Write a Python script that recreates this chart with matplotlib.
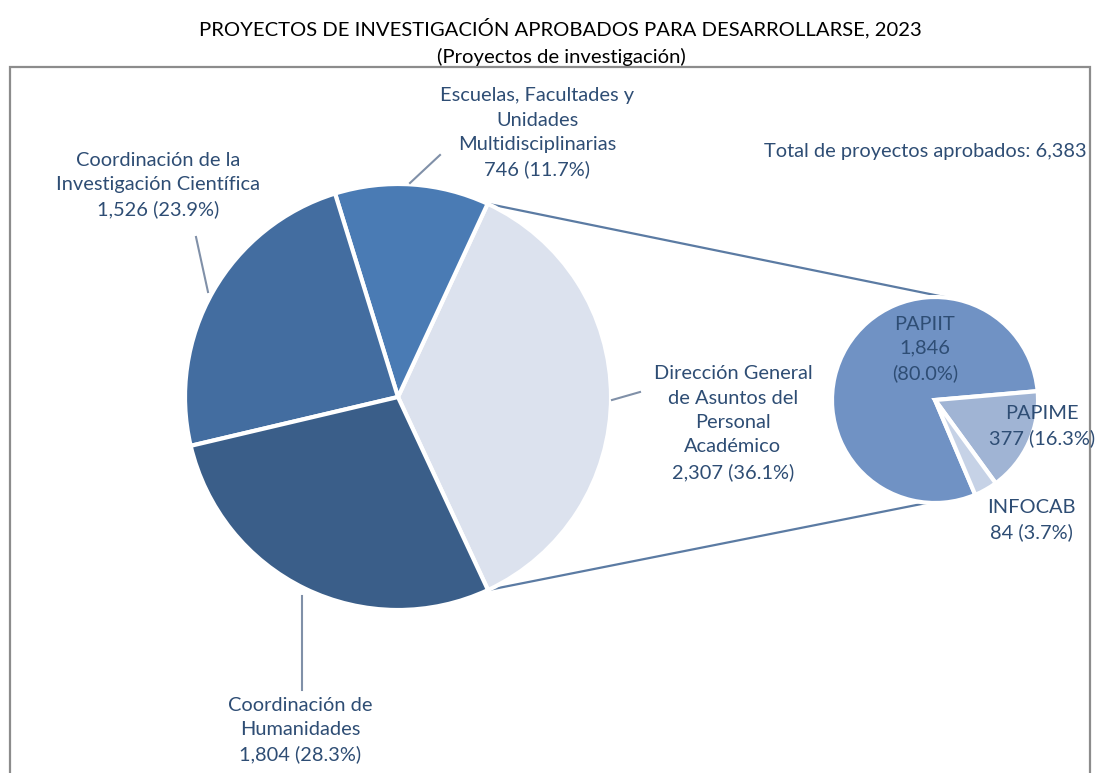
import matplotlib
matplotlib.use("Agg")
import matplotlib.pyplot as plt
import numpy as np
from matplotlib.patches import Rectangle

# ---- data ----
main_labels = ["Dirección General\nde Asuntos del\nPersonal\nAcadémico",
               "Escuelas, Facultades y\nUnidades\nMultidisciplinarias",
               "Coordinación de la\nInvestigación Científica",
               "Coordinación de\nHumanidades"]
main_values = [2307, 746, 1526, 1804]
main_pcts = ["36.1%", "11.7%", "23.9%", "28.3%"]
main_colors = ["#DCE2EE", "#4A7BB4", "#436DA0", "#3A5E89"]

sub_labels = ["PAPIIT", "PAPIME", "INFOCAB"]
sub_values = [1846, 377, 84]
sub_pcts = ["80.0%", "16.3%", "3.7%"]
sub_colors = ["#7092C4", "#A0B4D4", "#C6D2E6"]

total = 6383
title = "PROYECTOS DE INVESTIGACIÓN APROBADOS PARA DESARROLLARSE, 2023"
subtitle = "(Proyectos de investigación)"

W, H = 1095, 773
fig = plt.figure(figsize=(W / 100, H / 100), dpi=100)
ax = fig.add_axes([0, 0, 1, 1])

def Y(py):
    return H - py

FONT = "Lato"
TXT = "#2E4D74"
LEAD = "#8090A8"

# Title
fig.text(560 / W, 1 - 28 / H, title, ha="center", va="center", fontsize=14.6, family=FONT, color="black")
fig.text(561 / W, 1 - 57 / H, subtitle, ha="center", va="center", fontsize=14.6, family=FONT, color="black")

# main pie
mc = (398, Y(397))
mr = 213
wedges, _ = ax.pie(main_values, colors=main_colors, startangle=-65, counterclock=True,
                   radius=mr, center=mc, explode=[5 / mr, 0, 0, 0],
                   wedgeprops=dict(edgecolor="white", linewidth=3), frame=True)

# sub pie
sc = (935, Y(400))
sr = 103
swedges, _ = ax.pie(sub_values, colors=sub_colors, startangle=-67, counterclock=False,
                    radius=sr, center=sc, explode=[0, 5 / sr, 5 / sr],
                    wedgeprops=dict(edgecolor="white", linewidth=3), frame=True)
ax.set_xlim(0, W)
ax.set_ylim(0, H)
ax.set_aspect("equal")
ax.axis("off")

# frame
ax.add_patch(Rectangle((10, Y(780)), 1080, 780 - 67, fill=False, edgecolor="#8C8C8C", lw=1.6, clip_on=False))

# connector lines
dg = wedges[0]
a1, a2 = np.deg2rad(dg.theta2), np.deg2rad(dg.theta1)
cx, cy = dg.center
p_top = (cx + mr * np.cos(a1), cy + mr * np.sin(a1))
p_bot = (cx + mr * np.cos(a2), cy + mr * np.sin(a2))
s_top = (sc[0] + sr * np.cos(np.deg2rad(82)), sc[1] + sr * np.sin(np.deg2rad(82)))
s_bot = (sc[0] + sr * np.cos(np.deg2rad(-94)), sc[1] + sr * np.sin(np.deg2rad(-94)))
ax.plot([p_top[0], s_top[0]], [p_top[1], s_top[1]], color="#5B7BA3", lw=1.6, zorder=0)
ax.plot([p_bot[0], s_bot[0]], [p_bot[1], s_bot[1]], color="#5B7BA3", lw=1.6, zorder=0)

fs = 14.4
def lab(x, y, s):
    ax.text(x, Y(y), s, ha="center", va="center", fontsize=fs, family=FONT, color=TXT, linespacing=1.52)

lab(537, 133, f"{main_labels[1]}\n{main_values[1]:,} ({main_pcts[1]})")
lab(158, 185, f"{main_labels[2]}\n{main_values[2]:,} ({main_pcts[2]})")
lab(733, 423, f"{main_labels[0]}\n{main_values[0]:,} ({main_pcts[0]})")
lab(300, 730, f"{main_labels[3]}\n{main_values[3]:,} ({main_pcts[3]})")
ax.text(925, Y(152), f"Total de proyectos aprobados: {total:,}", ha="center", va="center",
        fontsize=fs, family=FONT, color=TXT)

# leader lines
ax.plot([410, 440], [Y(183), Y(155)], color=LEAD, lw=1.5)
ax.plot([196, 208], [Y(237), Y(292)], color=LEAD, lw=1.5)
ax.plot([612, 640], [Y(400), Y(392)], color=LEAD, lw=1.5)
ax.plot([302, 302], [Y(596), Y(690)], color=LEAD, lw=1.5)

# sub labels
lab(925, 349, f"{sub_labels[0]}\n{sub_values[0]:,}\n({sub_pcts[0]})")
lab(1042, 426, f"{sub_labels[1]}\n{sub_values[1]:,} ({sub_pcts[1]})")
lab(1031, 520, f"{sub_labels[2]}\n{sub_values[2]:,} ({sub_pcts[2]})")

fig.savefig("out.png", dpi=100)
